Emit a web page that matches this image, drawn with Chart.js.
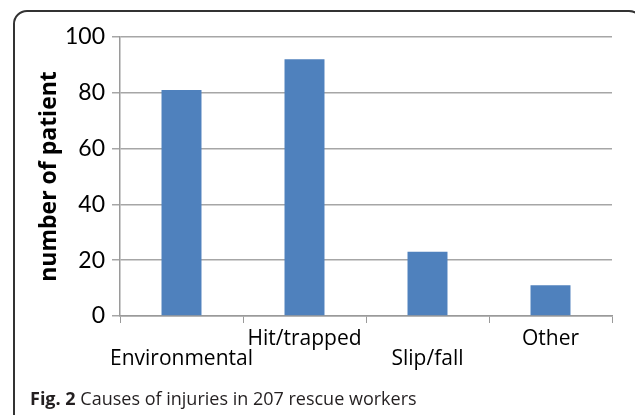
<!DOCTYPE html>
<html>
<head>
<meta charset="utf-8">
<script src="https://cdn.jsdelivr.net/npm/chart.js@4"></script>
<style>
  html, body { margin: 0; padding: 0; background: #fff; overflow: hidden; }
  #wrap { position: relative; width: 635px; height: 415px; }
  #frame {
    position: absolute; left: 13px; top: 10px; width: 630px; height: 418px;
    border: 2px solid #333; border-radius: 14px; box-sizing: border-box;
  }
  #chartBox { position: absolute; left: 0; top: 0; width: 635px; height: 415px; }
  #caption {
    position: absolute; left: 30px; top: 386px;
    font-family: "Open Sans", sans-serif; font-size: 18px; color: #231f20;
    white-space: nowrap;
  }
  #caption b { font-weight: bold; }
</style>
</head>
<body>
<div id="wrap">
  <div id="frame"></div>
  <div id="chartBox"><canvas id="injuryChart"></canvas></div>
  <div id="caption"><b>Fig. 2</b> Causes of injuries in 207 rescue workers</div>
</div>
<script>
'use strict';

// chart data
var causeLabels = ['Environmental', 'Hit/trapped', 'Slip/fall', 'Other'];
var patientCounts = [81, 92, 23, 11];
var yTicks = [0, 20, 40, 60, 80, 100];

// excel style staggered labels: even ones drop a line
function staggerLabel(label, i) {
    return i % 2 === 0 ? ['', label] : [label, ''];
}

var ctx = document.getElementById('injuryChart').getContext('2d');
var chart = new Chart(ctx, {
    type: 'bar',
    data: {
        labels: causeLabels,
        datasets: [{
            label: 'number of patient',
            data: patientCounts,
            backgroundColor: '#4f81bd',
            barPercentage: 0.325,
            categoryPercentage: 1
        }]
    },
    options: {
        responsive: true,
        maintainAspectRatio: false,
        animation: false,
        layout: { padding: { left: 14, top: 37, right: 23, bottom: 40 } },
        plugins: {
            legend: { display: false },
            tooltip: { enabled: false }
        },
        scales: {
            x: {
                afterFit: function (scale) { scale.height = 59; },
                grid: {
                    offset: true,
                    drawOnChartArea: false,
                    drawTicks: true,
                    tickLength: 7,
                    color: '#9a9a9a'
                },
                border: { color: '#9a9a9a', width: 1.5 },
                ticks: {
                    color: '#000',
                    font: { family: 'Open Sans', size: 21, lineHeight: 0.95 },
                    padding: 6,
                    maxRotation: 0,
                    autoSkip: false,
                    callback: function (value, i) { return staggerLabel(causeLabels[i], i); }
                }
            },
            y: {
                min: 0,
                max: 100,
                afterFit: function (scale) { scale.width = 106; },
                afterBuildTicks: function (scale) {
                    scale.ticks = yTicks.map(function (v) { return { value: v }; });
                },
                grid: { color: '#a6a6a6', tickLength: 8, lineWidth: 1.5 },
                border: { color: '#9a9a9a', width: 1.5 },
                ticks: {
                    color: '#000',
                    font: { family: 'Lato', size: 23 },
                    padding: 7
                },
                title: {
                    display: true,
                    text: 'number of patient',
                    color: '#000',
                    font: { family: 'Open Sans', size: 23, weight: 'bold' },
                    padding: { top: 22, bottom: 0 }
                }
            }
        }
    }
});
</script>
</body>
</html>
